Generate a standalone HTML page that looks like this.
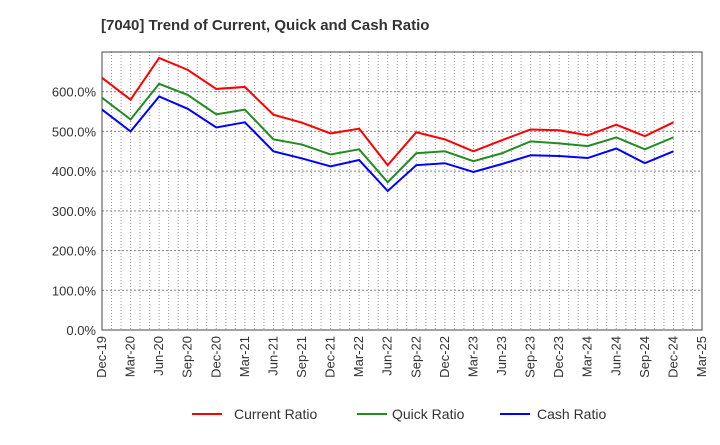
<!DOCTYPE html>
<html><head><meta charset="utf-8"><style>
body{margin:0;background:#fff;font-family:"Liberation Sans",sans-serif}
</style></head><body>
<svg id="chart" width="720" height="440" xmlns="http://www.w3.org/2000/svg" font-family="Liberation Sans, sans-serif">
<text x="101" y="30" font-size="15" font-weight="bold" fill="#333">[7040]  Trend of Current, Quick and Cash Ratio</text>
<g id="grid"></g><g id="axes"></g><g id="series"></g>
<g font-size="14" fill="#333">
<line x1="192" y1="414" x2="222" y2="414" stroke="#f00" stroke-width="2"/><text x="234" y="419">Current Ratio</text>
<line x1="357" y1="414" x2="387" y2="414" stroke="#228b22" stroke-width="2"/><text x="392" y="419">Quick Ratio</text>
<line x1="500" y1="414" x2="530" y2="414" stroke="#00f" stroke-width="2"/><text x="537" y="419">Cash Ratio</text>
</g>
</svg>
<script>
const categories=["Dec-19","Mar-20","Jun-20","Sep-20","Dec-20","Mar-21","Jun-21","Sep-21","Dec-21","Mar-22","Jun-22","Sep-22","Dec-22","Mar-23","Jun-23","Sep-23","Dec-23","Mar-24","Jun-24","Sep-24","Dec-24","Mar-25"];
const currentRatio=[635,580,685,655,607,612,542,522,495,507,415,498,480,450,478,505,503,490,517,488,523];
const quickRatio=[585,530,620,592,543,555,480,467,442,455,372,445,450,425,445,475,470,463,485,455,485];
const cashRatio=[555,500,588,557,510,523,450,432,412,428,350,415,420,398,418,440,438,433,457,420,450];
const yTicks=[0,100,200,300,400,500,600];
const yTickLabels=["0.0%","100.0%","200.0%","300.0%","400.0%","500.0%","600.0%"];
const L=102,R=702,T=52,B=330,YMAX=700;
const NS="http://www.w3.org/2000/svg";
const xs=i=>L+i*(R-L)/(categories.length-1);
const ys=v=>B-v/YMAX*(B-T);
function mk(tag,attrs,parent){const e=document.createElementNS(NS,tag);for(const k in attrs)e.setAttribute(k,attrs[k]);parent.appendChild(e);return e;}
const grid=document.getElementById('grid'),axes=document.getElementById('axes'),ser=document.getElementById('series');
for(let i=1;i<categories.length*3-3;i++){const x=L+i*(R-L)/((categories.length-1)*3);
const g=mk('line',{x1:x,x2:x,y1:T,y2:B,stroke:'#999','stroke-dasharray':'1,2','stroke-width':1},grid);

}
yTicks.forEach((v,i)=>{const y=ys(v);
if(v>0){const g=mk('line',{x1:L,x2:R,y1:y,y2:y,stroke:'#888','stroke-dasharray':'2,2'},grid);

}
const t=mk('text',{x:L-6,y:y+5,'text-anchor':'end','font-size':13,fill:'#333'},axes);t.textContent=yTickLabels[i];

});
const fr=mk('rect',{x:L,y:T,width:R-L,height:B-T,fill:'none',stroke:'#444'},axes);


categories.forEach((c,i)=>{const x=xs(i);
const t=mk('text',{transform:`translate(${x+4},${B+6}) rotate(-90)`,'text-anchor':'end','font-size':13,fill:'#333'},axes);t.textContent=c;

});
[[currentRatio,'#f00','current-ratio-line'],[quickRatio,'#228b22','quick-ratio-line'],[cashRatio,'#00f','cash-ratio-line']].forEach(([d,c,n])=>{
const p=mk('polyline',{points:d.map((v,i)=>xs(i)+','+ys(v)).join(' '),fill:'none',stroke:c,'stroke-width':2},ser);

});
</script>
</body></html>
